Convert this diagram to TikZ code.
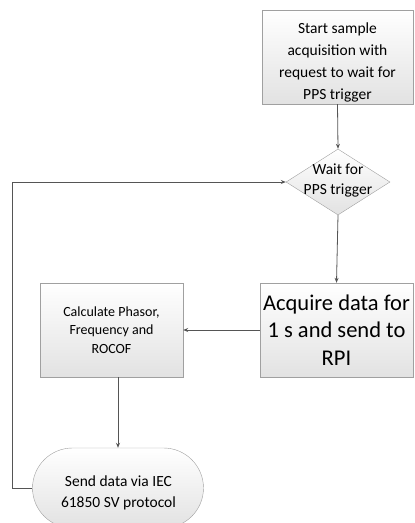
\documentclass[tikz,border=0pt]{standalone}
\usepackage{fontspec}
\setmainfont{Carlito}
\usetikzlibrary{shapes.geometric,shapes.misc,arrows.meta}
\definecolor{edge}{HTML}{A0A0A0}
\definecolor{conn}{HTML}{555555}
\definecolor{fillbot}{HTML}{E2E2E2}
\begin{document}
\begin{tikzpicture}[x=1pt,y=-1pt,
  boxstyle/.style={draw=edge, top color=white, bottom color=fillbot, align=center, inner sep=0pt, text=black},
  txt/.style={align=center, inner sep=0pt, text=black},
  conn/.style={draw=conn, line width=0.8pt, -{Stealth[length=5pt,width=4pt]}}]
\useasboundingbox (0,0) rectangle (415,523);
\begin{scope}
\clip (0,0) rectangle (415,523);
\node[boxstyle, minimum width=151pt, minimum height=94pt] (start) at (337.5,57) {};
\node[txt, font=\fontsize{15.5}{22}\selectfont] (startt) at (337.5,62) {Start sample\\acquisition with\\request to wait for\\PPS trigger};
\node[boxstyle, shape=diamond, minimum width=104pt, minimum height=66pt, aspect=1.576] (d) at (338,182) {};
\node[txt, font=\fontsize{15.5}{20}\selectfont] (dt) at (338,180) {Wait for\\PPS trigger};
\node[boxstyle, minimum width=153pt, minimum height=94pt, font=\fontsize{22.5}{27.5}\selectfont] (acq) at (336.5,330) {Acquire data for\\1 s and send to\\RPI};
\node[boxstyle, minimum width=143pt, minimum height=94pt, font=\fontsize{14}{18.5}\selectfont] (calc) at (111.5,330) {Calculate Phasor,\\Frequency and\\ROCOF};
\node[boxstyle, shape=rounded rectangle, minimum width=171pt, minimum height=80pt] (send) at (118,488) {};
\node[txt, font=\fontsize{15.5}{21}\selectfont] (sendt) at (118.5,493) {Send data via IEC\\61850 SV protocol};
\end{scope}
\coordinate (c1) at (12,488);
\draw[conn] (start.south) -- (d.north);
\draw[conn] (d.south) -- (acq.north);
\draw[conn] (acq.west) -- (calc.east);
\draw[conn] (send.north |- calc.south) -- (send.north);
\draw[conn] (send.west) -- (c1) |- (d.west);
\end{tikzpicture}
\end{document}
